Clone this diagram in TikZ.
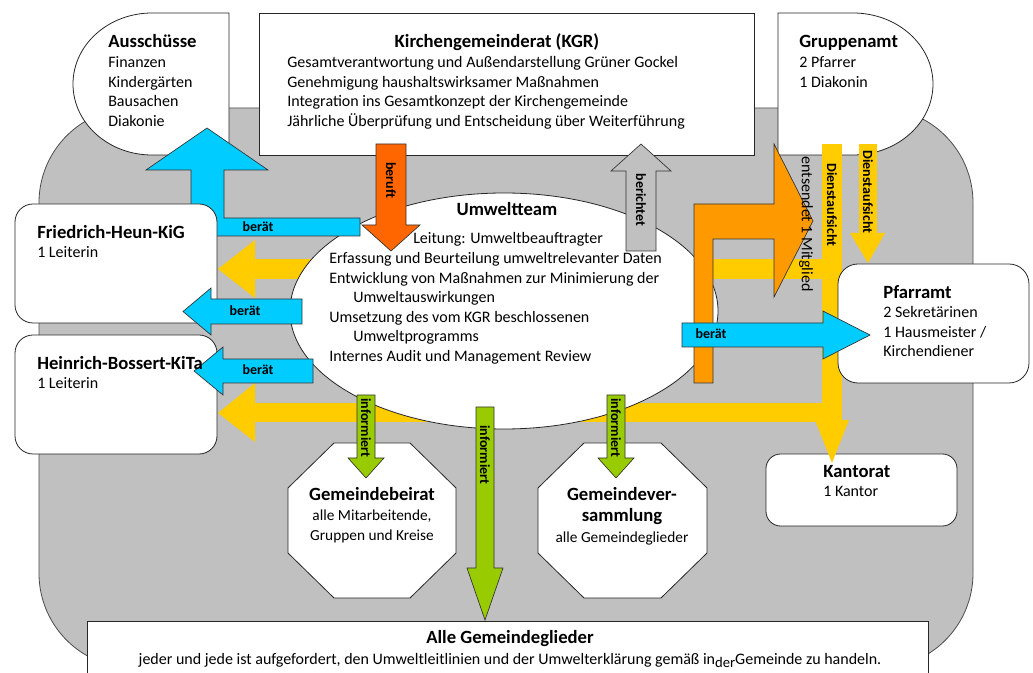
\documentclass[tikz,border=0pt]{standalone}
\usepackage{fontspec}
\setmainfont{Carlito}
\definecolor{bgray}{HTML}{C0C0C0}
\definecolor{cblue}{HTML}{00CCFF}
\definecolor{cred}{HTML}{FF6600}
\definecolor{corange}{HTML}{FF9900}
\definecolor{cyellow}{HTML}{FFCC00}
\definecolor{cgreen}{HTML}{99CC00}
\begin{document}
\begin{tikzpicture}[x=0.75pt,y=-0.75pt,
  box/.style={draw=black!85, line width=0.6pt, fill=white},
  blk/.style={draw=black!80, line width=0.5pt},
  ttl/.style={font=\fontsize{14}{16}\selectfont\bfseries, inner sep=0pt},
  txt/.style={font=\fontsize{12}{14}\selectfont, inner sep=0pt},
  stxt/.style={font=\fontsize{11.5}{14}\selectfont, inner sep=0pt},
  lbl/.style={font=\fontsize{10.5}{12}\selectfont\bfseries, inner sep=0pt},
]
\useasboundingbox (0,0) rectangle (1033,673);
\clip (0,0) rectangle (1033,673);

% gray background
\draw[fill=bgray, draw=black!70, line width=0.6pt, rounded corners=71pt] (39,108) rectangle (973,668);

% top shapes
\draw[box] (229,13) -- (152,13) .. controls (108.4,13) and (73,44.8) .. (73,84)
  .. controls (73,123.2) and (108.4,155) .. (152,155) -- (229,155) -- cycle;
\draw[box] (259,13) rectangle (754,155);
\draw[box] (778,13) -- (853,13) .. controls (897.2,13) and (933,44.8) .. (933,84)
  .. controls (933,123.2) and (897.2,155) .. (853,155) -- (778,155) -- cycle;

% Kantorat (under yellow tip)
\draw[box, rounded corners=11pt] (766,454) rectangle (957,526);

% yellow bars
\fill[cyellow] (822,144) rectangle (842,422);
\fill[cyellow] (815,420) -- (849,420) -- (832,463) -- cycle;
\fill[cyellow] (255,259) rectangle (842,279);
\fill[cyellow] (255,240) -- (218,269) -- (255,298) -- cycle;
\fill[cyellow] (255,403) rectangle (842,422);
\fill[cyellow] (255,383) -- (218,413) -- (255,442) -- cycle;
\fill[cyellow] (859,144) rectangle (877,233);
\fill[cyellow] (850,233) -- (885,233) -- (868,263) -- cycle;

% Umweltteam ellipse
\draw[box] (504,311) ellipse [x radius=160.5pt, y radius=88.5pt];

% blue L arrow to Ausschuesse
\draw[blk, fill=cblue] (191,236) -- (360,236) -- (360,218) -- (224,218) -- (224,170)
  -- (268,170) -- (207,128) -- (146,170) -- (191,170) -- cycle;

% boxes
\draw[box, rounded corners=13.5pt] (15,204) rectangle (217,323);
\draw[box, rounded corners=13.5pt] (15,335) rectangle (217,454);
\draw[box, rounded corners=15pt] (838,264) rectangle (1029,383);
\draw[box] (334,443) -- (410,443) -- (456,488) -- (456,553) -- (410,598) -- (334,598)
  -- (288,553) -- (288,488) -- cycle;
\draw[box] (584,443) -- (661,443) -- (707,488) -- (707,553) -- (661,598) -- (584,598)
  -- (538,553) -- (538,488) -- cycle;
\draw[box] (87,621) rectangle (928,690);

% blue arrows
\draw[blk, fill=cblue] (302,299) -- (211,299) -- (211,288) -- (183,311.5) -- (211,335)
  -- (211,324) -- (302,324) -- cycle;
\draw[blk, fill=cblue] (313,359) -- (223,359) -- (223,347) -- (194,371) -- (223,395)
  -- (223,383) -- (313,383) -- cycle;
% orange L arrow
\draw[blk, fill=corange] (694,383) -- (694,204) -- (774,204) -- (774,144) -- (813,221)
  -- (774,297) -- (774,239) -- (713,239) -- (713,383) -- cycle;
\draw[blk, fill=cblue] (682,323) -- (823,323) -- (823,311) -- (870,335) -- (823,359)
  -- (823,347) -- (682,347) -- cycle;
% beruft
\draw[blk, fill=cred] (376,144) -- (406,144) -- (406,225) -- (420,225) -- (391,251)
  -- (362,225) -- (376,225) -- cycle;
% berichtet
\draw[blk, fill=bgray] (626,251) -- (656,251) -- (656,171) -- (671,171) -- (641,144)
  -- (611,171) -- (626,171) -- cycle;
% green arrows
\draw[blk, fill=cgreen] (357,395) -- (375,395) -- (375,458) -- (384,458) -- (366,478)
  -- (348,458) -- (357,458) -- cycle;
\draw[blk, fill=cgreen] (476,407) -- (494,407) -- (494,568) -- (503,568) -- (485,620)
  -- (467,568) -- (476,568) -- cycle;
\draw[blk, fill=cgreen] (607,395) -- (625,395) -- (625,458) -- (634,458) -- (616,478)
  -- (598,458) -- (607,458) -- cycle;

% texts: Ausschuesse
\node[ttl, anchor=base west] (aus) at (108,48) {Ausschüsse};
\node[txt, anchor=base west] (aus1) at (108,67.5) {Finanzen};
\node[txt, anchor=base west] (aus2) at (108,87.2) {Kindergärten};
\node[txt, anchor=base west] (aus3) at (108,106.9) {Bausachen};
\node[txt, anchor=base west] (aus4) at (108,126.6) {Diakonie};
% KGR
\node[ttl, anchor=base] (kgr) at (497,48) {Kirchengemeinderat (KGR)};
\node[txt, anchor=base west] (kgr1) at (287,67.5) {Gesamtverantwortung und Außendarstellung Grüner Gockel};
\node[txt, anchor=base west] (kgr2) at (287,87.2) {Genehmigung haushaltswirksamer Maßnahmen};
\node[txt, anchor=base west] (kgr3) at (287,106.9) {Integration ins Gesamtkonzept der Kirchengemeinde};
\node[txt, anchor=base west] (kgr4) at (287,126.6) {Jährliche Überprüfung und Entscheidung über Weiterführung};
% Gruppenamt
\node[ttl, anchor=base west] (grp) at (799,48) {Gruppenamt};
\node[txt, anchor=base west] (grp1) at (799,67.5) {2 Pfarrer};
\node[txt, anchor=base west] (grp2) at (799,87.2) {1 Diakonin};
% Kitas
\node[ttl, anchor=base west] (fh) at (37,238.5) {Friedrich-Heun-KiG};
\node[txt, anchor=base west] (fh1) at (37,258) {1 Leiterin};
\node[ttl, anchor=base west] (hb) at (37,369.5) {Heinrich-Bossert-KiTa};
\node[txt, anchor=base west] (hb1) at (37,389) {1 Leiterin};
% Umweltteam
\node[ttl, anchor=base] (ut) at (507,216) {Umweltteam};
\node[txt, anchor=base west] (ut0) at (413,244) {Leitung: Umweltbeauftragter};
\node[txt, anchor=base west] (ut1) at (329,264) {Erfassung und Beurteilung umweltrelevanter Daten};
\node[txt, anchor=base west] (ut2) at (329,283.5) {Entwicklung von Maßnahmen zur Minimierung der};
\node[txt, anchor=base west] (ut3) at (353,303) {Umweltauswirkungen};
\node[txt, anchor=base west] (ut4) at (329,322.5) {Umsetzung des vom KGR beschlossenen};
\node[txt, anchor=base west] (ut5) at (353,342) {Umweltprogramms};
\node[txt, anchor=base west] (ut6) at (329,361.5) {Internes Audit und Management Review};
% Pfarramt
\node[ttl, anchor=base west] (pf) at (883,298.5) {Pfarramt};
\node[txt, anchor=base west] (pf1) at (883,318) {2 Sekretärinen};
\node[txt, anchor=base west] (pf2) at (883,338) {1 Hausmeister /};
\node[txt, anchor=base west] (pf3) at (883,357) {Kirchendiener};
% Kantorat
\node[ttl, anchor=base west] (ka) at (823,477.5) {Kantorat};
\node[txt, anchor=base west] (ka1) at (823,497) {1 Kantor};
% Gemeindebeirat
\node[ttl, anchor=base] (gb) at (372,501) {Gemeindebeirat};
\node[stxt, anchor=base] (gb1) at (372,521) {alle Mitarbeitende,};
\node[stxt, anchor=base] (gb2) at (372,541) {Gruppen und Kreise};
% Gemeindeversammlung
\node[ttl, anchor=base] (gv) at (622,501) {Gemeindever-};
\node[ttl, anchor=base] (gv1) at (622,522) {sammlung};
\node[stxt, anchor=base] (gv2) at (622,543) {alle Gemeindeglieder};
% Alle
\node[ttl, anchor=base] (alle) at (510,643.5) {Alle Gemeindeglieder};
\node[font=\fontsize{12}{14}\selectfont, inner sep=0pt, anchor=base] (alle1) at (510,664.5)
  {jeder und jede ist aufgefordert, den Umweltleitlinien und der Umwelterklärung gemäß in\raisebox{-2pt}{\fontsize{11}{12}\selectfont der}Gemeinde zu handeln.};

% arrow labels
\node[lbl] (l1) at (258,227) {berät};
\node[lbl] (l2) at (245,311) {berät};
\node[lbl] (l3) at (258,370) {berät};
\node[lbl] (l4) at (711,334) {berät};
\node[lbl, rotate=-90] (l5) at (391,180) {beruft};
\node[lbl, rotate=-90] (l6) at (641,200) {berichtet};
\node[txt, rotate=-90] (l7) at (806,224) {entsendet 1 Mitglied};
\node[lbl, rotate=-90] (l8) at (832,205) {Dienstaufsicht};
\node[lbl, rotate=-90] (l9) at (868,192) {Dienstaufsicht};
\node[lbl, rotate=-90] (l10) at (366,428) {informiert};
\node[lbl, rotate=-90] (l11) at (485,455) {informiert};
\node[lbl, rotate=-90] (l12) at (616,428) {informiert};
\end{tikzpicture}
\end{document}
